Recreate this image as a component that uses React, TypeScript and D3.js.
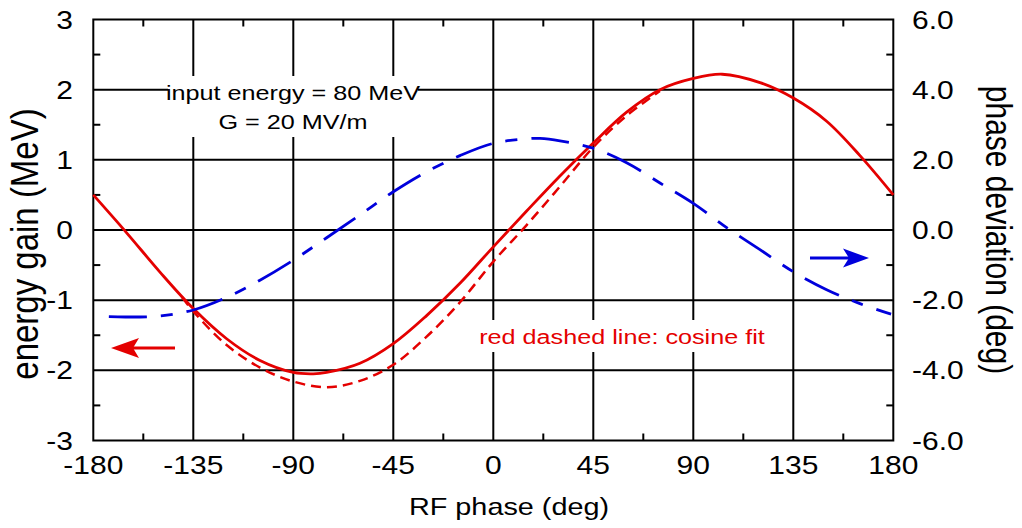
import React from 'react';
import * as d3 from 'd3';

// ---- data ----
const phaseTicks = [-180, -135, -90, -45, 0, 45, 90, 135, 180];
const phaseMinor = [-157.5, -112.5, -67.5, -22.5, 22.5, 67.5, 112.5, 157.5];
const energyTicks = [-3, -2, -1, 0, 1, 2, 3];
const energyMinor = [-2.5, -1.5, -0.5, 0.5, 1.5, 2.5];
const deviationTicks = [-6, -4, -2, 0, 2, 4, 6];
const deviationLabels = ['-6.0', '-4.0', '-2.0', '0.0', '2.0', '4.0', '6.0'];

// energy gain (MeV), red solid, left axis
const gainPhase = [-180, -165, -150, -135, -120, -105, -90, -81, -75, -60, -45, -30, -15, 0, 15, 30, 45, 60, 75, 90, 103, 120, 135, 150, 165, 180];
const gainValue = [0.5, -0.04, -0.6, -1.12, -1.55, -1.86, -2.03, -2.05, -2.03, -1.9, -1.62, -1.22, -0.76, -0.24, 0.27, 0.77, 1.24, 1.68, 2.0, 2.16, 2.22, 2.1, 1.88, 1.55, 1.06, 0.5];

// cosine fit, red dashed, left axis
const fitPhase = [-140, -135, -120, -105, -90, -75, -60, -45, -30, -15, 0, 15, 30, 45, 60, 75];
const fitValue = [-0.96, -1.16, -1.64, -1.96, -2.16, -2.24, -2.15, -1.92, -1.52, -1.03, -0.45, 0.07, 0.62, 1.18, 1.63, 1.98];

// phase deviation (deg), blue dashed, right axis
const devPhase = [-173, -165, -150, -135, -120, -105, -90, -75, -60, -45, -30, -15, 0, 15, 21, 30, 45, 60, 75, 90, 105, 120, 135, 150, 165, 179];
const devValue = [-2.47, -2.48, -2.45, -2.28, -1.92, -1.43, -0.86, -0.22, 0.43, 1.09, 1.66, 2.12, 2.47, 2.6, 2.61, 2.54, 2.33, 1.92, 1.34, 0.76, 0.07, -0.56, -1.19, -1.7, -2.1, -2.4];

const RED = '#e40000';
const BLUE = '#0000dc';
const FONT = '"Liberation Sans", Arial, Helvetica, sans-serif';
const SX = 1.2;

const L = 93.3, R = 893.3, T = 19.5, B = 440.5;

function HText({ x, y, size, anchor = 'middle', fill = '#000', children }: any) {
  return (
    <text
      transform={`translate(${x},${y}) scale(${SX},1)`}
      fontSize={size}
      fontFamily={FONT}
      textAnchor={anchor}
      fill={fill}
    >
      {children}
    </text>
  );
}

export default function App() {
  const x = d3.scaleLinear().domain([-180, 180]).range([L, R]);
  const yE = d3.scaleLinear().domain([-3, 3]).range([B, T]);
  const yD = d3.scaleLinear().domain([-6, 6]).range([B, T]);

  const gainLine = d3.line<number>().x((_, i) => x(gainPhase[i])).y((d) => yE(d)).curve(d3.curveCatmullRom.alpha(0.5));
  const fitLine = d3.line<number>().x((_, i) => x(fitPhase[i])).y((d) => yE(d)).curve(d3.curveCatmullRom.alpha(0.5));
  const devLine = d3.line<number>().x((_, i) => x(devPhase[i])).y((d) => yD(d)).curve(d3.curveCatmullRom.alpha(0.5));

  return (
    <svg width={1022} height={528} style={{ position: 'absolute', left: 0, top: 0, background: '#fff' }}>
      <rect x={0} y={0} width={1022} height={528} fill="#fff" />
      {/* grid */}
      <g stroke="#000" strokeWidth={2}>
        {phaseTicks.slice(1, -1).map((p) => (
          <line key={'gx' + p} x1={x(p)} x2={x(p)} y1={T} y2={B} />
        ))}
        {energyTicks.slice(1, -1).map((v) => (
          <line key={'gy' + v} x1={L} x2={R} y1={yE(v)} y2={yE(v)} />
        ))}
        {phaseMinor.map((p) => (
          <g key={'mx' + p}>
            <line x1={x(p)} x2={x(p)} y1={T} y2={T + 7} />
            <line x1={x(p)} x2={x(p)} y1={B} y2={B - 7} />
          </g>
        ))}
        {energyMinor.map((v) => (
          <g key={'my' + v}>
            <line x1={L} x2={L + 7} y1={yE(v)} y2={yE(v)} />
            <line x1={R} x2={R - 7} y1={yE(v)} y2={yE(v)} />
          </g>
        ))}
        <rect x={L} y={T} width={R - L} height={B - T} fill="none" />
      </g>

      {/* annotation boxes */}
      <rect x={168} y={76} width={250} height={61} fill="#fff" />
      <rect x={476} y={320} width={292} height={32} fill="#fff" />
      <HText x={293} y={100} size={21}>input energy = 80 MeV</HText>
      <HText x={293} y={128.5} size={21}>G = 20 MV/m</HText>
      <HText x={622} y={344} size={21} fill={RED}>red dashed line: cosine fit</HText>

      {/* curves */}
      <path d={fitLine(fitValue) || ''} fill="none" stroke={RED} strokeWidth={2.5} strokeDasharray="10,6" />
      <path d={gainLine(gainValue) || ''} fill="none" stroke={RED} strokeWidth={2.8} />
      <path d={devLine(devValue) || ''} fill="none" stroke={BLUE} strokeWidth={2.8} strokeDasharray="38,14,12,14" />

      {/* arrows */}
      <line x1={175} x2={132} y1={348} y2={348} stroke={RED} strokeWidth={3} />
      <path d="M111,348 L139,338 L133,348 L139,358 Z" fill={RED} />
      <line x1={810} x2={850} y1={258} y2={258} stroke={BLUE} strokeWidth={3} />
      <path d="M869,258 L843,248.5 L849,258 L843,267.5 Z" fill={BLUE} />

      {/* tick labels */}
      {phaseTicks.map((p) => (
        <HText key={'tx' + p} x={x(p)} y={474} size={25}>{String(p)}</HText>
      ))}
      {energyTicks.map((v) => (
        <HText key={'ty' + v} x={73} y={yE(v) + 9} size={25} anchor="end">{String(v)}</HText>
      ))}
      {deviationTicks.map((v, i) => (
        <HText key={'td' + v} x={912} y={yD(v) + 9} size={25} anchor="start">{deviationLabels[i]}</HText>
      ))}

      {/* axis titles */}
      <HText x={509} y={515} size={24}>RF phase (deg)</HText>
      <text
        transform={`translate(38,244) rotate(-90) scale(1,${SX})`}
        fontSize={33}
        fontFamily={FONT}
        textAnchor="middle"
      >
        energy gain (MeV)
      </text>
      <text
        transform={`translate(986,230) rotate(90) scale(1,${SX})`}
        fontSize={30}
        fontFamily={FONT}
        textAnchor="middle"
      >
        phase deviation (deg)
      </text>
    </svg>
  );
}
